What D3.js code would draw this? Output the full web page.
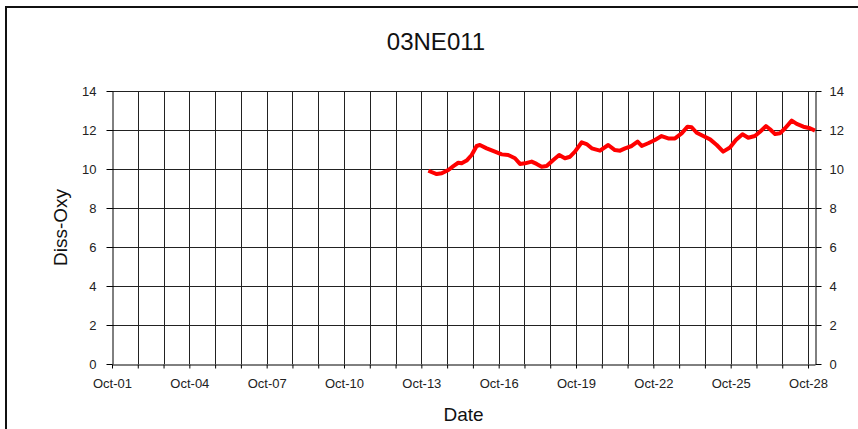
<!DOCTYPE html>
<html>
<head>
<meta charset="utf-8">
<script src="https://cdn.jsdelivr.net/npm/d3@7"></script>
<style>
  body { margin: 0; background: #fff; }
  svg { display: block; font-family: "Liberation Sans", Arial, sans-serif; }
</style>
</head>
<body>
<svg id="chart"></svg>
<script>
// readings: time stamps and dissolved oxygen
var times = [
  "2009-10-13 06:30", "2009-10-13 14:20", "2009-10-13 19:00", "2009-10-14 01:10",
  "2009-10-14 05:50", "2009-10-14 10:20", "2009-10-14 13:30", "2009-10-14 18:10",
  "2009-10-14 22:50", "2009-10-15 03:30", "2009-10-15 06:30", "2009-10-15 12:50",
  "2009-10-15 20:30", "2009-10-16 02:50", "2009-10-16 08:50", "2009-10-16 15:10",
  "2009-10-16 19:50", "2009-10-17 00:30", "2009-10-17 06:40", "2009-10-17 11:20",
  "2009-10-17 16:00", "2009-10-17 20:40", "2009-10-18 02:50", "2009-10-18 08:20",
  "2009-10-18 13:40", "2009-10-18 18:30", "2009-10-18 23:00", "2009-10-19 05:20",
  "2009-10-19 09:50", "2009-10-19 14:40", "2009-10-19 22:20", "2009-10-20 06:00",
  "2009-10-20 12:10", "2009-10-20 17:00", "2009-10-20 21:40", "2009-10-21 03:50",
  "2009-10-21 09:20", "2009-10-21 13:10", "2009-10-21 19:10", "2009-10-22 01:30",
  "2009-10-22 07:40", "2009-10-22 13:50", "2009-10-22 20:10", "2009-10-23 02:20",
  "2009-10-23 07:50", "2009-10-23 11:40", "2009-10-23 16:20", "2009-10-23 22:30",
  "2009-10-24 04:50", "2009-10-24 11:00", "2009-10-24 17:00", "2009-10-24 23:20",
  "2009-10-25 04:50", "2009-10-25 11:00", "2009-10-25 16:20", "2009-10-25 22:30",
  "2009-10-26 03:20", "2009-10-26 08:50", "2009-10-26 12:40", "2009-10-26 17:20",
  "2009-10-26 21:50", "2009-10-27 02:40", "2009-10-27 08:50", "2009-10-27 13:30",
  "2009-10-27 19:40", "2009-10-28 01:50", "2009-10-28 06:30"
];
var dissOxy = [
  9.91, 9.74, 9.78, 9.95,
  10.15, 10.32, 10.29, 10.43,
  10.72, 11.18, 11.23, 11.06,
  10.89, 10.75, 10.72, 10.55,
  10.26, 10.29, 10.38, 10.26,
  10.12, 10.15, 10.46, 10.72,
  10.55, 10.63, 10.89, 11.37,
  11.28, 11.06, 10.94, 11.23,
  10.97, 10.94, 11.06, 11.18,
  11.40, 11.18, 11.32, 11.49,
  11.69, 11.57, 11.57, 11.83,
  12.17, 12.14, 11.86, 11.69,
  11.52, 11.23, 10.89, 11.10,
  11.49, 11.78, 11.60, 11.69,
  11.91, 12.20, 12.04, 11.79,
  11.83, 12.09, 12.48, 12.31,
  12.17, 12.09, 11.97
];
var xRange = ["2009-10-01 00:00", "2009-10-28 06:30"];
var yTicks = [0, 2, 4, 6, 8, 10, 12, 14];
var chartTitle = "03NE011";
var xTitle = "Date";
var yTitle = "Diss-Oxy";

var width = 858, height = 429;
var margin = { "top": 91, "right": 43, "bottom": 65, "left": 112 };

var parseTime = d3.timeParse("%Y-%m-%d %H:%M");
var data = times.map(function (t, i) {
  return { date: parseTime(t), value: dissOxy[i] };
});

var svg = d3.select("#chart")
  .attr("width", width)
  .attr("height", height);

// outer chart frame
svg.append("rect")
  .attr("x", 6)
  .attr("y", 7)
  .attr("width", width + 10)
  .attr("height", height + 10)
  .attr("fill", "#fff")
  .attr("stroke", "#111")
  .attr("stroke-width", 2);

var x = d3.scaleTime()
  .domain(xRange.map(parseTime))
  .range([margin.left, width - margin.right]);
var y = d3.scaleLinear()
  .domain([0, 14])
  .range([height - margin.bottom, margin.top]);

var days = d3.timeDay.range(parseTime(xRange[0]), d3.timeDay.offset(parseTime(xRange[1]), 1))
  .filter(function (d) { return d <= x.domain()[1]; });
var fmt = d3.timeFormat("%b-%d");

// grid
svg.append("g").selectAll("line")
  .data(days.slice(1))
  .enter().append("line")
  .attr("x1", function (d) { return Math.round(x(d)) + 0.5; })
  .attr("x2", function (d) { return Math.round(x(d)) + 0.5; })
  .attr("y1", y(14))
  .attr("y2", y(0))
  .attr("stroke", "#222")
  .attr("stroke-width", 1);
svg.append("g").selectAll("line")
  .data(yTicks.slice(1))
  .enter().append("line")
  .attr("x1", x.range()[0])
  .attr("x2", x.range()[1])
  .attr("y1", function (d) { return Math.round(y(d)) + 0.5; })
  .attr("y2", function (d) { return Math.round(y(d)) + 0.5; })
  .attr("stroke", "#222")
  .attr("stroke-width", 1);

// axes
var xAxis = svg.append("g")
  .attr("transform", "translate(0," + (Math.round(y(0)) + 0.5) + ")")
  .call(d3.axisBottom(x)
    .tickValues(days)
    .tickSize(4)
    .tickSizeOuter(0)
    .tickFormat(function (d, i) { return (d.getDate() - 1) % 3 === 0 ? fmt(d) : ""; }));
xAxis.selectAll("text").attr("dy", "1.25em");

var yLeft = svg.append("g")
  .attr("transform", "translate(" + (Math.round(x.range()[0]) + 0.5) + ",0)")
  .call(d3.axisLeft(y).tickValues(yTicks).tickSize(6).tickSizeOuter(0).tickPadding(10));
var yRight = svg.append("g")
  .attr("transform", "translate(" + (Math.round(x.range()[1]) + 0.5) + ",0)")
  .call(d3.axisRight(y).tickValues(yTicks).tickSize(6).tickSizeOuter(0).tickPadding(8));

svg.selectAll(".domain, .tick line").attr("stroke", "#000");
svg.selectAll(".tick text")
  .attr("font-family", "Liberation Sans, Arial, sans-serif")
  .attr("font-size", 13)
  .attr("fill", "#222");

// series
var valueline = d3.line()
  .x(function (d) { return x(d.date); })
  .y(function (d) { return y(d.value); });
svg.append("path")
  .datum(data)
  .attr("fill", "none")
  .attr("stroke", "#f00")
  .attr("stroke-width", 4)
  .attr("stroke-linejoin", "round")
  .attr("d", valueline);

// titles
svg.append("text")
  .attr("x", 436)
  .attr("y", 50)
  .attr("text-anchor", "middle")
  .attr("font-size", 24)
  .attr("fill", "#111")
  .text(chartTitle);
svg.append("text")
  .attr("x", (x.range()[0] + x.range()[1]) / 2)
  .attr("y", 421)
  .attr("text-anchor", "middle")
  .attr("font-size", 19)
  .attr("fill", "#111")
  .text(xTitle);
svg.append("text")
  .attr("transform", "translate(67," + ((y(0) + y(14)) / 2) + ") rotate(-90)")
  .attr("text-anchor", "middle")
  .attr("font-size", 19)
  .attr("fill", "#111")
  .text(yTitle);
</script>
</body>
</html>
